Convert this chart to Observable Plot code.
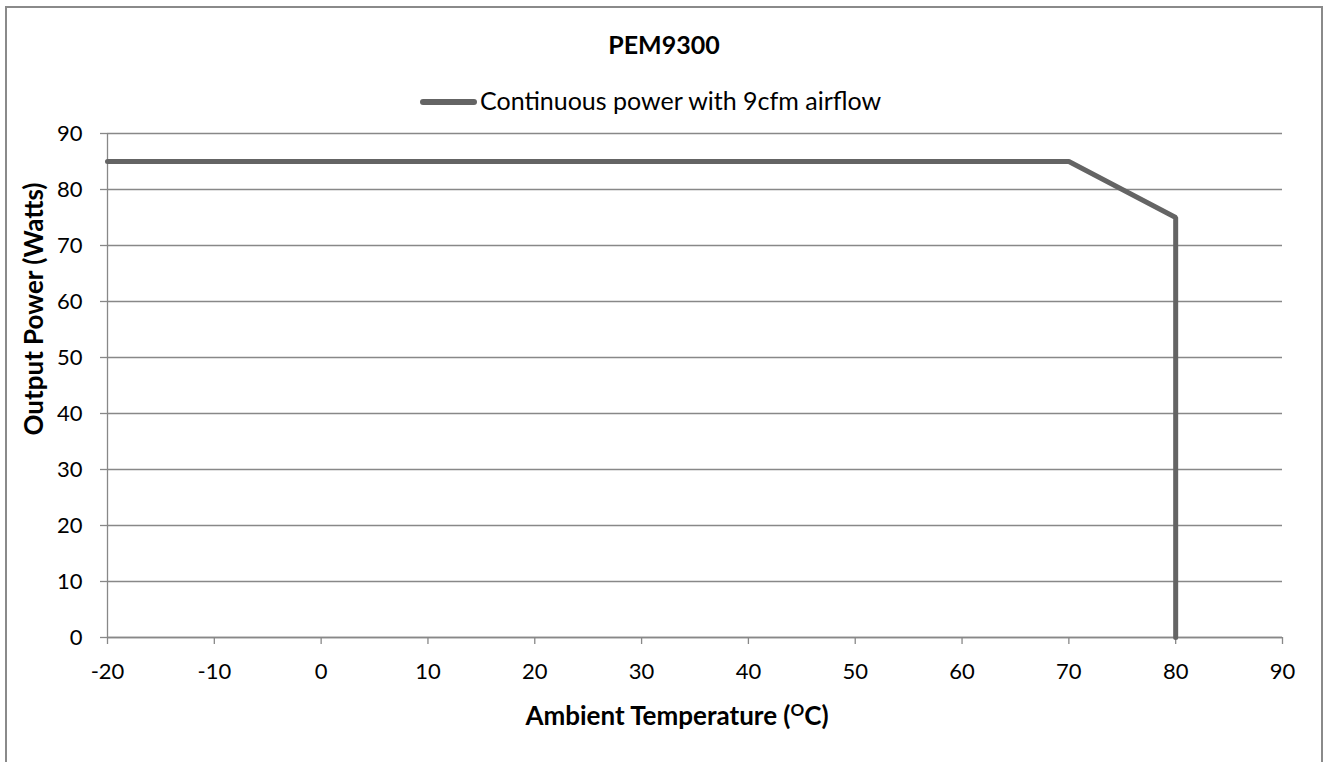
<!DOCTYPE html>
<html><head><meta charset="utf-8">
<script src="https://cdn.jsdelivr.net/npm/d3@7"></script>
<script src="https://cdn.jsdelivr.net/npm/@observablehq/plot@0.6"></script>
<style>
body{margin:0;background:#fff;font-family:Lato,"Open Sans",sans-serif;}
#wrap{position:relative;width:1328px;height:762px;overflow:hidden;}
#frame{position:absolute;left:5px;top:6px;width:1318px;height:800px;border:2px solid #8a8a8a;box-sizing:border-box;}
#title{position:absolute;left:0;width:1328px;top:32px;line-height:1;text-align:center;font-weight:bold;font-size:25px;color:#000;}
#legend{position:absolute;top:88px;left:480px;line-height:1;font-size:25px;color:#000;white-space:nowrap;}
#sw{position:absolute;left:420px;top:99px;width:57px;height:6px;background:#646464;border-radius:3px;}
#xlab{position:absolute;left:377px;width:600px;top:702px;line-height:1;text-align:center;font-weight:bold;font-size:26px;white-space:nowrap;}
#xlab sup{font-size:17px;vertical-align:9px;line-height:0;}
#ylab{position:absolute;left:33px;top:309px;line-height:1;transform:translate(-50%,-50%) rotate(-90deg);white-space:nowrap;font-weight:bold;font-size:26px;}
#chart{position:absolute;left:0;top:0;}
</style></head>
<body>
<div id="wrap">
<div id="frame"></div>
<div id="chart"></div>
<div id="title">PEM9300</div>
<div id="sw"></div>
<div id="legend">Continuous power with 9cfm airflow</div>
<div id="ylab">Output Power (Watts)</div>
<div id="xlab">Ambient Temperature (<sup>O</sup>C)</div>
</div>
<script>
const temps = [-20, 70, 80, 80];
const power = [85, 85, 75, 0];
const xTicks = [-20, -10, 0, 10, 20, 30, 40, 50, 60, 70, 80, 90];
const yTicks = [0, 10, 20, 30, 40, 50, 60, 70, 80, 90];

const data = temps.map((t, i) => ({t, p: power[i]}));
const fmt = d => String(d);

const chart = Plot.plot({
  width: 1328,
  height: 762,
  marginLeft: 107,
  marginRight: 46,
  marginTop: 133,
  marginBottom: 125,
  style: {fontFamily: "Lato, 'Open Sans', sans-serif", fontSize: "22px", color: "#000", background: "transparent"},
  x: {domain: [-20, 90], label: null},
  y: {domain: [0, 90], label: null},
  marks: [
    Plot.gridY(yTicks, {stroke: "#888", strokeOpacity: 1, strokeWidth: 1.3}),
    Plot.ruleX([-20], {stroke: "#888", strokeWidth: 1.3}),
    Plot.ruleY([0], {stroke: "#888", strokeWidth: 1.3}),
    Plot.axisX(xTicks, {tickSize: 7, tickPadding: 19, tickFormat: fmt, stroke: "#888", strokeWidth: 1.3, fill: "#000", fontSize: 22, label: null}),
    Plot.axisY(yTicks, {tickSize: 7, tickPadding: 18, tickFormat: fmt, stroke: "#888", strokeWidth: 1.3, fill: "#000", fontSize: 22, label: null}),
    Plot.line(data, {x: "t", y: "p", stroke: "#646464", strokeWidth: 5, strokeLinejoin: "miter"})
  ]
});
document.getElementById("chart").appendChild(chart);
</script>
</body></html>
